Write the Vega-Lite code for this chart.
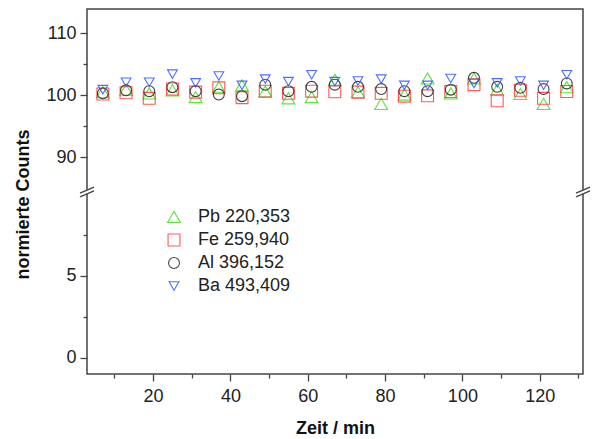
{
  "$schema": "https://vega.github.io/schema/vega-lite/v6.json",
  "autosize": {"type": "none"},
  "padding": {"left": 87, "top": 9, "right": 9, "bottom": 65},
  "width": 496,
  "height": 365,
  "config": {
    "view": {"stroke": "#444", "strokeWidth": 1.5},
    "font": "Liberation Sans",
    "axis": {"domain": false, "tickColor": "#444", "tickWidth": 1.3, "labelColor": "#222", "labelFont": "Liberation Sans", "titleFont": "Liberation Sans", "grid": false, "labelFontWeight": "normal"}
  },
  "datasets": {
    "pts": [
      {"t": 7, "series": "Pb 220,353", "v": 100.5}, {"t": 7, "series": "Fe 259,940", "v": 100.2}, {"t": 7, "series": "Al 396,152", "v": 100.3}, {"t": 7, "series": "Ba 493,409", "v": 100.9},
      {"t": 13, "series": "Pb 220,353", "v": 100.9}, {"t": 13, "series": "Fe 259,940", "v": 100.4}, {"t": 13, "series": "Al 396,152", "v": 100.8}, {"t": 13, "series": "Ba 493,409", "v": 102.1},
      {"t": 19, "series": "Pb 220,353", "v": 100.3}, {"t": 19, "series": "Fe 259,940", "v": 99.5}, {"t": 19, "series": "Al 396,152", "v": 100.65}, {"t": 19, "series": "Ba 493,409", "v": 102.1},
      {"t": 25, "series": "Pb 220,353", "v": 100.8}, {"t": 25, "series": "Fe 259,940", "v": 101.0}, {"t": 25, "series": "Al 396,152", "v": 101.3}, {"t": 25, "series": "Ba 493,409", "v": 103.4},
      {"t": 31, "series": "Pb 220,353", "v": 99.7}, {"t": 31, "series": "Fe 259,940", "v": 100.5}, {"t": 31, "series": "Al 396,152", "v": 100.65}, {"t": 31, "series": "Ba 493,409", "v": 102.0},
      {"t": 37, "series": "Pb 220,353", "v": 101.3}, {"t": 37, "series": "Fe 259,940", "v": 101.2}, {"t": 37, "series": "Al 396,152", "v": 100.1}, {"t": 37, "series": "Ba 493,409", "v": 103.1},
      {"t": 43, "series": "Pb 220,353", "v": 101.6}, {"t": 43, "series": "Fe 259,940", "v": 99.6}, {"t": 43, "series": "Al 396,152", "v": 99.85}, {"t": 43, "series": "Ba 493,409", "v": 101.6},
      {"t": 49, "series": "Pb 220,353", "v": 100.6}, {"t": 49, "series": "Fe 259,940", "v": 100.65}, {"t": 49, "series": "Al 396,152", "v": 101.7}, {"t": 49, "series": "Ba 493,409", "v": 102.6},
      {"t": 55, "series": "Pb 220,353", "v": 99.5}, {"t": 55, "series": "Fe 259,940", "v": 100.3}, {"t": 55, "series": "Al 396,152", "v": 100.65}, {"t": 55, "series": "Ba 493,409", "v": 102.2},
      {"t": 61, "series": "Pb 220,353", "v": 99.7}, {"t": 61, "series": "Fe 259,940", "v": 100.65}, {"t": 61, "series": "Al 396,152", "v": 101.35}, {"t": 61, "series": "Ba 493,409", "v": 103.3},
      {"t": 67, "series": "Pb 220,353", "v": 102.5}, {"t": 67, "series": "Fe 259,940", "v": 100.55}, {"t": 67, "series": "Al 396,152", "v": 101.7}, {"t": 67, "series": "Ba 493,409", "v": 102.2},
      {"t": 73, "series": "Pb 220,353", "v": 100.5}, {"t": 73, "series": "Fe 259,940", "v": 100.5}, {"t": 73, "series": "Al 396,152", "v": 101.35}, {"t": 73, "series": "Ba 493,409", "v": 102.3},
      {"t": 79, "series": "Pb 220,353", "v": 98.6}, {"t": 79, "series": "Fe 259,940", "v": 100.3}, {"t": 79, "series": "Al 396,152", "v": 101.0}, {"t": 79, "series": "Ba 493,409", "v": 102.6},
      {"t": 85, "series": "Pb 220,353", "v": 100.1}, {"t": 85, "series": "Fe 259,940", "v": 99.85}, {"t": 85, "series": "Al 396,152", "v": 100.65}, {"t": 85, "series": "Ba 493,409", "v": 101.6},
      {"t": 91, "series": "Pb 220,353", "v": 102.7}, {"t": 91, "series": "Fe 259,940", "v": 99.9}, {"t": 91, "series": "Al 396,152", "v": 100.65}, {"t": 91, "series": "Ba 493,409", "v": 101.6},
      {"t": 97, "series": "Pb 220,353", "v": 100.3}, {"t": 97, "series": "Fe 259,940", "v": 100.6}, {"t": 97, "series": "Al 396,152", "v": 100.9}, {"t": 97, "series": "Ba 493,409", "v": 102.7},
      {"t": 103, "series": "Pb 220,353", "v": 102.7}, {"t": 103, "series": "Fe 259,940", "v": 101.7}, {"t": 103, "series": "Al 396,152", "v": 102.8}, {"t": 103, "series": "Ba 493,409", "v": 101.9},
      {"t": 109, "series": "Pb 220,353", "v": 100.9}, {"t": 109, "series": "Fe 259,940", "v": 99.1}, {"t": 109, "series": "Al 396,152", "v": 101.35}, {"t": 109, "series": "Ba 493,409", "v": 102.0},
      {"t": 115, "series": "Pb 220,353", "v": 100.2}, {"t": 115, "series": "Fe 259,940", "v": 100.8}, {"t": 115, "series": "Al 396,152", "v": 101.2}, {"t": 115, "series": "Ba 493,409", "v": 102.3},
      {"t": 121, "series": "Pb 220,353", "v": 98.6}, {"t": 121, "series": "Fe 259,940", "v": 99.5}, {"t": 121, "series": "Al 396,152", "v": 101.0}, {"t": 121, "series": "Ba 493,409", "v": 101.6},
      {"t": 127, "series": "Pb 220,353", "v": 101.3}, {"t": 127, "series": "Fe 259,940", "v": 100.6}, {"t": 127, "series": "Al 396,152", "v": 101.9}, {"t": 127, "series": "Ba 493,409", "v": 103.3}
    ]
  },
  "layer": [
    {
      "data": {"name": "pts"},
      "mark": {"type": "point", "filled": false, "strokeWidth": 1.1, "opacity": 0.85},
      "encoding": {
        "x": {"field": "t", "type": "quantitative", "scale": {"domain": [2.9, 131.2], "nice": false, "zero": false},
              "axis": {"orient": "bottom", "values": [10, 20, 30, 40, 50, 60, 70, 80, 90, 100, 110, 120, 130],
                       "labelExpr": "datum.value % 20 == 0 ? datum.label : ''",
                       "tickSize": {"condition": {"test": "datum.value % 20 != 0", "value": 4}, "value": 7},
                       "labelFontSize": 18, "labelPadding": 6, "labelFlush": false, "labelOverlap": false,
                       "title": "Zeit / min", "titleFontSize": 18, "titleFontWeight": "bold", "titleColor": "#111",
                       "titleY": 54, "titleBaseline": "middle"}},
        "y": {"field": "v", "type": "quantitative", "scale": {"domain": [-1, 10.14, 84.4, 113.9], "range": [365, 183, 183, 0], "nice": false, "zero": false},
              "axis": {"orient": "left", "values": [0, 2.5, 5, 7.5, 90, 95, 100, 105, 110],
                       "labelExpr": "(datum.value == 0 || datum.value == 5 || datum.value == 90 || datum.value == 100 || datum.value == 110) ? datum.label : ''",
                       "tickSize": {"condition": {"test": "datum.value == 2.5 || datum.value == 7.5 || datum.value == 95 || datum.value == 105", "value": 4}, "value": 7},
                       "labelFontSize": 18, "labelPadding": 4, "labelFlush": false, "labelOverlap": false, "labelBaseline": "middle",
                       "title": "normierte Counts", "titleFontSize": 18, "titleFontWeight": "bold", "titleColor": "#111",
                       "titleX": -64, "titleY": 195, "titleBaseline": "middle", "titleAlign": "center", "titleAngle": -90}},
        "color": {"field": "series", "type": "nominal",
                  "scale": {"domain": ["Pb 220,353", "Fe 259,940", "Al 396,152", "Ba 493,409"], "range": ["#3fe01a", "#ff3c3c", "#222222", "#2f55ff"]},
                  "legend": {"orient": "none", "legendX": 78, "legendY": 199, "title": null, "labelFontSize": 18, "labelFont": "Liberation Sans", "labelColor": "#222", "labelOffset": 15, "rowPadding": 5, "symbolStrokeWidth": 1.1}},
        "shape": {"field": "series", "type": "nominal",
                  "scale": {"domain": ["Pb 220,353", "Fe 259,940", "Al 396,152", "Ba 493,409"], "range": ["triangle-up", "square", "circle", "triangle-down"]}},
        "size": {"field": "series", "type": "nominal",
                 "scale": {"domain": ["Pb 220,353", "Fe 259,940", "Al 396,152", "Ba 493,409"], "range": [165, 95, 130, 165]}}
      }
    },
    {
      "data": {"values": [{}]},
      "mark": {"type": "point", "shape": "M-1,0.15L1,-0.71L1,-0.15L-1,0.71Z", "filled": true, "fill": "white", "strokeWidth": 0, "opacity": 1, "size": 196},
      "encoding": {
        "x": {"datum": 2.9, "type": "quantitative"},
        "y": {"datum": 10.14, "type": "quantitative"}
      }
    },
    {
      "data": {"values": [{}]},
      "mark": {"type": "point", "shape": "M-1,0.15L1,-0.71L1,-0.15L-1,0.71Z", "filled": true, "fill": "white", "strokeWidth": 0, "opacity": 1, "size": 196},
      "encoding": {
        "x": {"datum": 131.2, "type": "quantitative"},
        "y": {"datum": 10.14, "type": "quantitative"}
      }
    },
    {
      "data": {"values": [{}]},
      "mark": {"type": "point", "shape": "M-1,0.15L1,-0.71M-1,0.71L1,-0.15", "filled": false, "stroke": "#444", "strokeWidth": 1.3, "opacity": 1, "size": 196},
      "encoding": {
        "x": {"datum": 2.9, "type": "quantitative"},
        "y": {"datum": 10.14, "type": "quantitative"}
      }
    },
    {
      "data": {"values": [{}]},
      "mark": {"type": "point", "shape": "M-1,0.15L1,-0.71M-1,0.71L1,-0.15", "filled": false, "stroke": "#444", "strokeWidth": 1.3, "opacity": 1, "size": 196},
      "encoding": {
        "x": {"datum": 131.2, "type": "quantitative"},
        "y": {"datum": 10.14, "type": "quantitative"}
      }
    }
  ]
}
